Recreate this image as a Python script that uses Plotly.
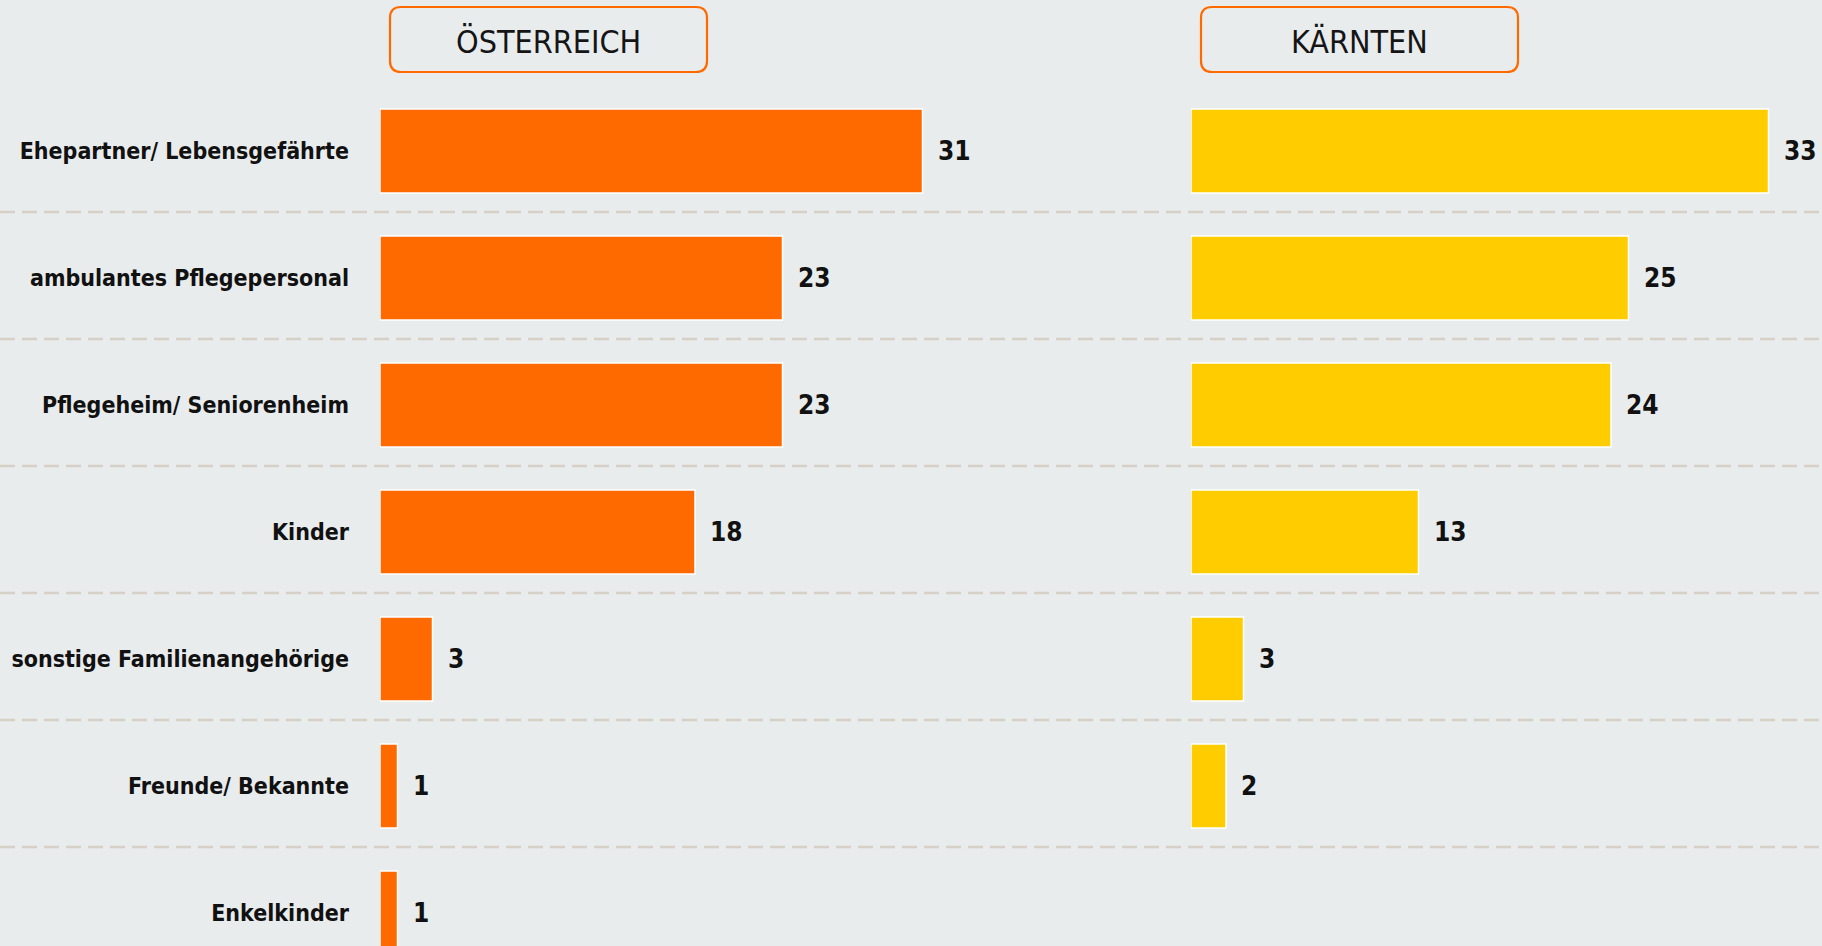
import plotly.graph_objects as go

categories = ["Ehepartner/ Lebensgefährte", "ambulantes Pflegepersonal", "Pflegeheim/ Seniorenheim",
              "Kinder", "sonstige Familienangehörige", "Freunde/ Bekannte", "Enkelkinder"]
oesterreich = [31, 23, 23, 18, 3, 1, 1]
kaernten = [33, 25, 24, 13, 3, 2, None]
titles = ["ÖSTERREICH", "KÄRNTEN"]

W, H = 1822, 946
BG = "#e9eced"
ORANGE = "#ff6a00"
YELLOW = "#ffcc00"
FONT = "DejaVu Sans Condensed, DejaVu Sans, sans-serif"
PXU = 17.5          # pixels per unit
ROW0 = 151.0        # pixel centre of first row
PITCH = 127.0       # pixel distance between rows
SEP_OFF = 0.5 - 2.5 / PITCH

rows = list(range(len(categories)))
y_top = -ROW0 / PITCH
y_bot = (H - ROW0) / PITCH

x1_start, x1_end = 380, 1000
x2_start, x2_end = 1191, W

fig = go.Figure()
fig.add_trace(go.Bar(x=oesterreich, y=rows, orientation="h", xaxis="x", yaxis="y",
                     marker=dict(color=ORANGE, line=dict(color="white", width=1.5)),
                     hoverinfo="x+y", showlegend=False))
fig.add_trace(go.Bar(x=kaernten, y=rows, orientation="h", xaxis="x2", yaxis="y2",
                     marker=dict(color=YELLOW, line=dict(color="white", width=1.5)),
                     hoverinfo="x+y", showlegend=False))

annotations = []
for xr, yr, vals in (("x", "y", oesterreich), ("x2", "y2", kaernten)):
    for r, v in zip(rows, vals):
        if v is None:
            continue
        annotations.append(dict(x=v, y=r, xref=xr, yref=yr, text=str(v), showarrow=False,
                                xanchor="left", yanchor="middle", xshift=13,
                                font=dict(family=FONT, size=26, color="#111111", weight="bold")))

def px(x):
    return x / W

def py(y):
    return 1 - y / H

def rounded_rect(x0, y0, x1, y1, r):
    pts = [
        f"M {px(x0 + r)} {py(y0)}",
        f"L {px(x1 - r)} {py(y0)}",
        f"Q {px(x1)} {py(y0)} {px(x1)} {py(y0 + r)}",
        f"L {px(x1)} {py(y1 - r)}",
        f"Q {px(x1)} {py(y1)} {px(x1 - r)} {py(y1)}",
        f"L {px(x0 + r)} {py(y1)}",
        f"Q {px(x0)} {py(y1)} {px(x0)} {py(y1 - r)}",
        f"L {px(x0)} {py(y0 + r)}",
        f"Q {px(x0)} {py(y0)} {px(x0 + r)} {py(y0)}",
        "Z",
    ]
    return " ".join(pts)

shapes = []
for r in rows[:-1]:
    shapes.append(dict(type="line", xref="paper", yref="y", x0=0, x1=1,
                       y0=r + SEP_OFF, y1=r + SEP_OFF,
                       line=dict(color="#d6d0c6", width=2.5, dash="15px,7px"), layer="below"))

box_w, box_top, box_bot = 317, 7, 72
for title, start in zip(titles, (x1_start, x2_start)):
    bx0 = start + 10
    shapes.append(dict(type="path", xref="paper", yref="paper",
                       path=rounded_rect(bx0, box_top, bx0 + box_w, box_bot, 11),
                       line=dict(color=ORANGE, width=2.2), fillcolor="rgba(0,0,0,0)"))
    annotations.append(dict(x=px(bx0 + box_w / 2), y=py(42), xref="paper", yref="paper",
                            text=title, showarrow=False, xanchor="center", yanchor="middle",
                            font=dict(family=FONT, size=32, color="#151515")))

fig.update_layout(
    width=W, height=H,
    margin=dict(l=0, r=0, t=0, b=0),
    paper_bgcolor=BG, plot_bgcolor=BG,
    bargap=1 - 84 / PITCH,
    xaxis=dict(domain=[px(x1_start), px(x1_end)], range=[0, (x1_end - x1_start) / PXU],
               visible=False, fixedrange=True),
    xaxis2=dict(domain=[px(x2_start), px(x2_end)], range=[0, (x2_end - x2_start) / PXU],
                visible=False, fixedrange=True),
    yaxis=dict(anchor="x", range=[y_bot, y_top], tickvals=rows, ticktext=categories,
               showgrid=False, zeroline=False, showline=False, ticks="", automargin=False,
               ticklabelstandoff=30, fixedrange=True,
               tickfont=dict(family=FONT, size=23, color="#111111", weight="bold")),
    yaxis2=dict(anchor="x2", range=[y_bot, y_top], showticklabels=False, fixedrange=True,
                showgrid=False, zeroline=False, showline=False, ticks=""),
    shapes=shapes,
    annotations=annotations,
)

fig.write_html("out.html", config={"displayModeBar": False},
               post_script="document.body.style.margin='0';document.body.style.overflow='hidden';")
